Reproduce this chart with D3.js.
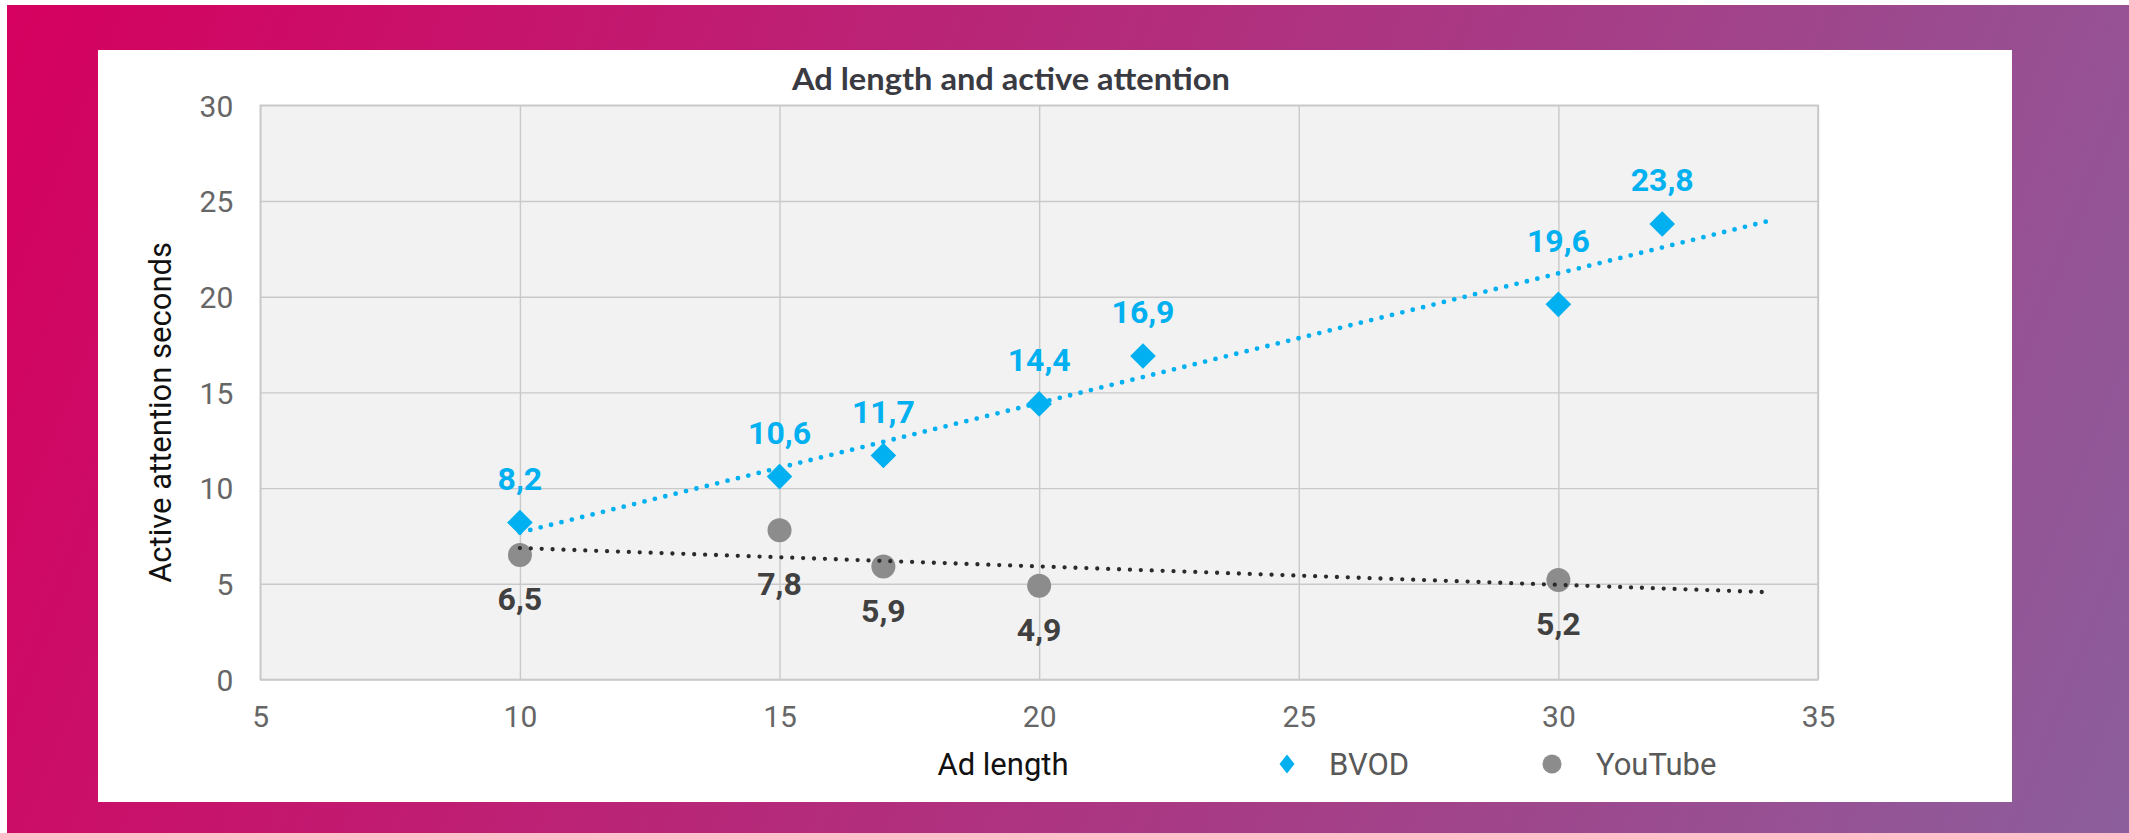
<!DOCTYPE html>
<html>
<head>
<meta charset="utf-8">
<script src="https://cdn.jsdelivr.net/npm/d3@7"></script>
<style>
  html, body { margin: 0; padding: 0; background: #ffffff; }
  svg { display: block; }
</style>
</head>
<body>
<svg id="chart" width="2129" height="833"></svg>
<script>
// ---- data ----
const bvodLength    = [10, 15, 17, 20, 22, 30, 32];
const bvodAttention = [8.2, 10.6, 11.7, 14.4, 16.9, 19.6, 23.8];
const ytLength      = [10, 15, 17, 20, 30];
const ytAttention   = [6.5, 7.8, 5.9, 4.9, 5.2];
const xTicks = [5, 10, 15, 20, 25, 30, 35];
const yTicks = [0, 5, 10, 15, 20, 25, 30];
const seriesNames = ["BVOD", "YouTube"];
const chartTitle = "Ad length and active attention";
const xTitle = "Ad length";
const yTitle = "Active attention seconds";

// ---- layout ----
const W = 2129, H = 833;
const plot = { left: 260.3, right: 1818, top: 105.3, bottom: 679.5 };
const BLUE = "#00B0F0", GREY = "#8C8C8C", LABEL_DARK = "#404040";
const fmt = v => String(v).replace(".", ",");

const svg = d3.select("#chart");
const defs = svg.append("defs");
const grad = defs.append("linearGradient")
  .attr("id", "frameGrad").attr("gradientUnits", "userSpaceOnUse")
  .attr("x1", 0).attr("y1", 0).attr("x2", W).attr("y2", H);
grad.append("stop").attr("offset", 0).attr("stop-color", "#D6005F");
grad.append("stop").attr("offset", 1).attr("stop-color", "#8C5E9C");

// coloured frame and white card
svg.append("rect").attr("x", 7).attr("y", 5).attr("width", W - 7).attr("height", H - 5)
  .attr("fill", "url(#frameGrad)");
svg.append("rect").attr("x", 98).attr("y", 50).attr("width", 2012 - 98).attr("height", 802 - 50)
  .attr("fill", "#ffffff");

const x = d3.scaleLinear().domain([5, 35]).range([plot.left, plot.right]);
const y = d3.scaleLinear().domain([0, 30]).range([plot.bottom, plot.top]);

// plot background
svg.append("rect")
  .attr("x", plot.left).attr("y", plot.top)
  .attr("width", plot.right - plot.left).attr("height", plot.bottom - plot.top)
  .attr("fill", "#F2F2F2");

// gridlines via axes
const gridX = svg.append("g").attr("transform", `translate(0,${plot.bottom})`)
  .call(d3.axisBottom(x).tickValues(xTicks).tickSize(-(plot.bottom - plot.top)).tickFormat(""));
const gridY = svg.append("g").attr("transform", `translate(${plot.left},0)`)
  .call(d3.axisLeft(y).tickValues(yTicks).tickSize(-(plot.right - plot.left)).tickFormat(""));
[gridX, gridY].forEach(g => {
  g.select(".domain").remove();
  g.selectAll(".tick line").attr("stroke", "#C9C9C9").attr("stroke-width", 1.4);
});
svg.append("rect")
  .attr("x", plot.left).attr("y", plot.top)
  .attr("width", plot.right - plot.left).attr("height", plot.bottom - plot.top)
  .attr("fill", "none").attr("stroke", "#C9C9C9").attr("stroke-width", 1.6);

// tick labels
const tickFont = "Roboto, 'Noto Sans', sans-serif";
const xAxis = svg.append("g").attr("transform", `translate(0,${plot.bottom})`)
  .call(d3.axisBottom(x).tickValues(xTicks).tickSize(0).tickPadding(0));
xAxis.select(".domain").remove();
xAxis.selectAll("text").attr("y", 47).attr("dy", null)
  .attr("font-family", tickFont).attr("font-size", 30).attr("fill", "#666666");

const yAxis = svg.append("g").attr("transform", `translate(${plot.left},0)`)
  .call(d3.axisLeft(y).tickValues(yTicks).tickSize(0).tickPadding(0));
yAxis.select(".domain").remove();
yAxis.selectAll("text").attr("x", -27).attr("dy", "0.36em")
  .attr("font-family", tickFont).attr("font-size", 30).attr("fill", "#666666");

// title and axis titles
svg.append("text").attr("x", 1011).attr("y", 90)
  .attr("text-anchor", "middle")
  .attr("font-family", "Lato, 'Open Sans', sans-serif").attr("font-weight", 700)
  .attr("font-size", 31).attr("fill", "#3A3A42")
  .attr("textLength", 438).attr("lengthAdjust", "spacingAndGlyphs")
  .text(chartTitle);

svg.append("text").attr("x", 1003).attr("y", 775)
  .attr("text-anchor", "middle")
  .attr("font-family", tickFont).attr("font-size", 31).attr("fill", "#111111")
  .text(xTitle);

svg.append("text")
  .attr("transform", `translate(171,${(plot.top + plot.bottom) / 2 + 20}) rotate(-90)`)
  .attr("text-anchor", "middle")
  .attr("font-family", tickFont).attr("font-size", 31).attr("fill", "#111111")
  .text(yTitle);

// markers
const bvod = bvodLength.map((d, i) => ({ x: d, y: bvodAttention[i] }));
const yt = ytLength.map((d, i) => ({ x: d, y: ytAttention[i] }));

const diamond = s => `M0,${-s}L${s},0L0,${s}L${-s},0Z`;

svg.append("g").selectAll("circle").data(yt).join("circle")
  .attr("cx", d => x(d.x)).attr("cy", d => y(d.y)).attr("r", 12)
  .attr("fill", GREY);

svg.append("g").selectAll("path").data(bvod).join("path")
  .attr("transform", d => `translate(${x(d.x)},${y(d.y)})`)
  .attr("d", diamond(12.8))
  .attr("fill", BLUE);

// linear trendlines (least squares), extended to x = 34
function fit(pts) {
  const mx = d3.mean(pts, p => p.x), my = d3.mean(pts, p => p.y);
  const sxy = d3.sum(pts, p => (p.x - mx) * (p.y - my));
  const sxx = d3.sum(pts, p => (p.x - mx) ** 2);
  const b = sxy / sxx;
  return v => my + b * (v - mx);
}
const trendEnd = 34;
const line = d3.line().x(d => x(d[0])).y(d => y(d[1]));
[[bvod, BLUE, 4.8, 10.7], [yt, "#2B2B2B", 4.3, 10.9]].forEach(([pts, col, w, gap]) => {
  const f = fit(pts);
  const x0 = d3.min(pts, p => p.x);
  svg.append("path")
    .attr("d", line([[x0, f(x0)], [trendEnd, f(trendEnd)]]))
    .attr("fill", "none").attr("stroke", col).attr("stroke-width", w)
    .attr("stroke-linecap", "round").attr("stroke-dasharray", `0 ${gap}`);
});

// value labels (a couple are nudged clear of the trendline)
const bvodNudge = { 5: -19 };
const ytNudge = { 1: 10 };
svg.append("g").selectAll("text").data(bvod).join("text")
  .attr("x", d => x(d.x))
  .attr("y", (d, i) => y(d.y) - 33 + (bvodNudge[i] || 0))
  .attr("text-anchor", "middle")
  .attr("font-family", tickFont).attr("font-weight", 700).attr("font-size", 32)
  .attr("fill", BLUE)
  .text(d => fmt(d.y));

svg.append("g").selectAll("text").data(yt).join("text")
  .attr("x", d => x(d.x))
  .attr("y", (d, i) => y(d.y) + 55 + (ytNudge[i] || 0))
  .attr("text-anchor", "middle")
  .attr("font-family", tickFont).attr("font-weight", 700).attr("font-size", 32)
  .attr("fill", LABEL_DARK)
  .text(d => fmt(d.y));

// legend
const legendY = 764;
const lg = svg.append("g");
lg.append("path").attr("transform", `translate(1287,${legendY})`)
  .attr("d", "M0,-9.5L7.5,0L0,9.5L-7.5,0Z").attr("fill", BLUE);
lg.append("text").attr("x", 1329).attr("y", legendY).attr("dy", "0.36em")
  .attr("font-family", tickFont).attr("font-size", 31).attr("fill", "#595959")
  .text(seriesNames[0]);
lg.append("circle").attr("cx", 1552).attr("cy", legendY).attr("r", 9.5).attr("fill", GREY);
lg.append("text").attr("x", 1596).attr("y", legendY).attr("dy", "0.36em")
  .attr("font-family", tickFont).attr("font-size", 31).attr("fill", "#595959")
  .text(seriesNames[1]);
</script>
</body>
</html>
